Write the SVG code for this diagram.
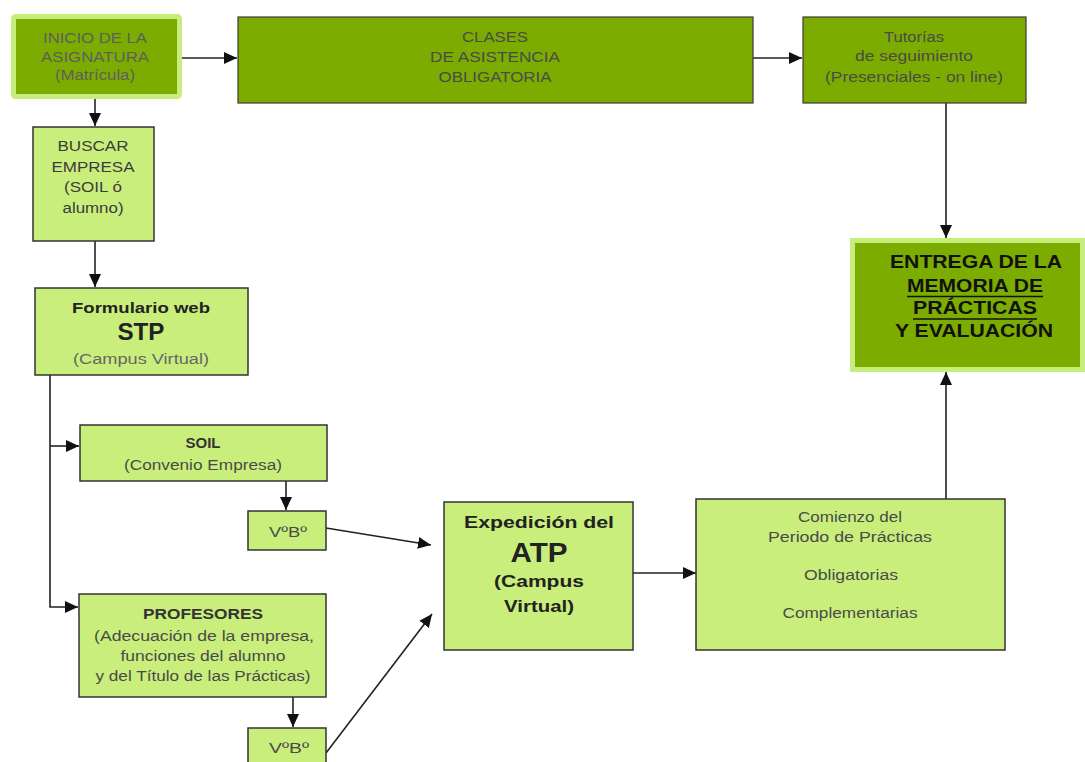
<svg xmlns="http://www.w3.org/2000/svg" width="1085" height="762" viewBox="0 0 1085 762">
<style>
text{font-family:"Liberation Sans",Arial,sans-serif;text-anchor:middle;}
.dark{fill:#7cac00;stroke:#3a3a3a;stroke-width:1.2;}
.halo{fill:#7cac00;stroke:#c6ee7c;stroke-width:5;}
.light{fill:#c9ee7b;stroke:#333;stroke-width:1.5;}
.t13{font-size:14px;fill:#4a4a4a;}
.t15{font-size:15.5px;fill:#3c3c3c;}
.tb{font-weight:bold;fill:#222;}
.tg{font-size:14px;fill:#666;}
.conn{fill:none;stroke:#222;stroke-width:1.6;}
</style>
<defs>
<marker id="ah" markerUnits="userSpaceOnUse" markerWidth="14" markerHeight="12" refX="13" refY="6" orient="auto">
<path d="M0,0 L13,6 L0,12 z" fill="#111"/>
</marker>
</defs>
<rect width="1085" height="762" fill="#fff"/>

<g id="connectors">
<path class="conn" d="M182,58 L237,58" marker-end="url(#ah)"/>
<path class="conn" d="M753,58 L802,58" marker-end="url(#ah)"/>
<path class="conn" d="M95,99 L95,126" marker-end="url(#ah)"/>
<path class="conn" d="M95,241 L95,287" marker-end="url(#ah)"/>
<path class="conn" d="M50,375 L50,607 L78,607" marker-end="url(#ah)"/>
<path class="conn" d="M50,446 L79,446" marker-end="url(#ah)"/>
<path class="conn" d="M286,481 L286,510" marker-end="url(#ah)"/>
<path class="conn" d="M293,697 L293,727" marker-end="url(#ah)"/>
<path class="conn" d="M326,528 L431,545" marker-end="url(#ah)"/>
<path class="conn" d="M326,753 L432,614" marker-end="url(#ah)"/>
<path class="conn" d="M633,573 L696,573" marker-end="url(#ah)"/>
<path class="conn" d="M946,499 L946,372" marker-end="url(#ah)"/>
<path class="conn" d="M946,103 L946,238" marker-end="url(#ah)"/>
</g>

<g id="inicio">
<rect class="halo" x="13.5" y="16.5" width="166" height="80" rx="2"/>
<text class="t13" x="95" y="43" textLength="104" lengthAdjust="spacingAndGlyphs" style="fill:#5e5e5e">INICIO DE LA</text>
<text class="t13" x="95" y="62" textLength="108" lengthAdjust="spacingAndGlyphs" style="fill:#5e5e5e">ASIGNATURA</text>
<text class="t13" x="95" y="80" textLength="80" lengthAdjust="spacingAndGlyphs" style="fill:#5e5e5e">(Matrícula)</text>
</g>

<g id="clases">
<rect class="dark" x="238" y="17" width="515" height="86"/>
<text class="t13" x="495" y="42" textLength="66" lengthAdjust="spacingAndGlyphs">CLASES</text>
<text class="t13" x="495" y="62" textLength="130" lengthAdjust="spacingAndGlyphs">DE ASISTENCIA</text>
<text class="t13" x="495" y="82" textLength="113" lengthAdjust="spacingAndGlyphs">OBLIGATORIA</text>
</g>

<g id="tutorias">
<rect class="dark" x="803" y="17" width="223" height="86"/>
<text class="t13" x="914" y="42" textLength="60" lengthAdjust="spacingAndGlyphs">Tutorías</text>
<text class="t13" x="914" y="61" textLength="118" lengthAdjust="spacingAndGlyphs">de seguimiento</text>
<text class="t13" x="914" y="82" textLength="178" lengthAdjust="spacingAndGlyphs">(Presenciales - on line)</text>
</g>

<g id="buscar">
<rect class="light" x="33" y="127" width="121" height="114"/>
<text class="t15" x="93" y="151" textLength="71" lengthAdjust="spacingAndGlyphs">BUSCAR</text>
<text class="t15" x="93" y="172" textLength="83" lengthAdjust="spacingAndGlyphs">EMPRESA</text>
<text class="t15" x="93" y="192" textLength="58" lengthAdjust="spacingAndGlyphs">(SOIL ó</text>
<text class="t15" x="93" y="213" textLength="61" lengthAdjust="spacingAndGlyphs">alumno)</text>
</g>

<g id="formulario">
<rect class="light" x="35" y="288" width="213" height="87"/>
<text class="tb" x="141" y="313" font-size="15" textLength="138" lengthAdjust="spacingAndGlyphs">Formulario web</text>
<text class="tb" x="141" y="340" font-size="24" textLength="47" lengthAdjust="spacingAndGlyphs">STP</text>
<text class="tg" x="141" y="364" textLength="136" lengthAdjust="spacingAndGlyphs">(Campus Virtual)</text>
</g>

<g id="soil">
<rect class="light" x="80" y="425" width="247" height="56"/>
<text class="tb" x="203" y="448" font-size="14" textLength="35" lengthAdjust="spacingAndGlyphs" style="fill:#333">SOIL</text>
<text class="t13" x="203" y="470" textLength="158" lengthAdjust="spacingAndGlyphs">(Convenio Empresa)</text>
</g>

<g id="vobo1">
<rect class="light" x="248" y="511" width="78" height="39"/>
<text class="t13" x="288" y="537" textLength="38" lengthAdjust="spacingAndGlyphs">VºBº</text>
</g>

<g id="profesores">
<rect class="light" x="79" y="594" width="247" height="103"/>
<text class="tb" x="203" y="619" font-size="15" textLength="120" lengthAdjust="spacingAndGlyphs" style="fill:#333">PROFESORES</text>
<text class="t13" x="204" y="641" textLength="220" lengthAdjust="spacingAndGlyphs">(Adecuación de la empresa,</text>
<text class="t13" x="203" y="661" textLength="165" lengthAdjust="spacingAndGlyphs">funciones del alumno</text>
<text class="t13" x="203" y="681" textLength="215" lengthAdjust="spacingAndGlyphs">y del Título de las Prácticas)</text>
</g>

<g id="vobo2">
<rect class="light" x="248" y="728" width="78" height="40"/>
<text class="t13" x="289" y="753" textLength="40" lengthAdjust="spacingAndGlyphs">VºBº</text>
</g>

<g id="expedicion">
<rect class="light" x="444" y="502" width="189" height="148"/>
<text class="tb" x="539" y="528" font-size="16" textLength="150" lengthAdjust="spacingAndGlyphs">Expedición del</text>
<text class="tb" x="539" y="562" font-size="27" textLength="57" lengthAdjust="spacingAndGlyphs">ATP</text>
<text class="tb" x="539" y="587" font-size="16" textLength="90" lengthAdjust="spacingAndGlyphs">(Campus</text>
<text class="tb" x="539" y="612" font-size="16" textLength="70" lengthAdjust="spacingAndGlyphs">Virtual)</text>
</g>

<g id="comienzo">
<rect class="light" x="696" y="499" width="309" height="151"/>
<text class="t13" x="850" y="522" textLength="104" lengthAdjust="spacingAndGlyphs">Comienzo del</text>
<text class="t13" x="850" y="542" textLength="164" lengthAdjust="spacingAndGlyphs">Periodo de Prácticas</text>
<text class="t13" x="851" y="580" textLength="94" lengthAdjust="spacingAndGlyphs">Obligatorias</text>
<text class="t13" x="850" y="618" textLength="135" lengthAdjust="spacingAndGlyphs">Complementarias</text>
</g>

<g id="entrega">
<rect class="halo" x="852.5" y="240.5" width="230" height="129"/>
<text class="tb" x="976" y="268" font-size="18" textLength="172" lengthAdjust="spacingAndGlyphs" style="fill:#111">ENTREGA DE LA</text>
<text class="tb" x="975" y="292" font-size="18" textLength="136" lengthAdjust="spacingAndGlyphs" style="fill:#111">MEMORIA DE</text>
<line x1="907" y1="296.5" x2="1043" y2="296.5" stroke="#111" stroke-width="1.5"/>
<text class="tb" x="975" y="314" font-size="18" textLength="124" lengthAdjust="spacingAndGlyphs" style="fill:#111">PRÁCTICAS</text>
<line x1="913" y1="319" x2="1037" y2="319" stroke="#111" stroke-width="1.5"/>
<text class="tb" x="974" y="337" font-size="18" textLength="158" lengthAdjust="spacingAndGlyphs" style="fill:#111">Y EVALUACIÓN</text>
</g>
</svg>
